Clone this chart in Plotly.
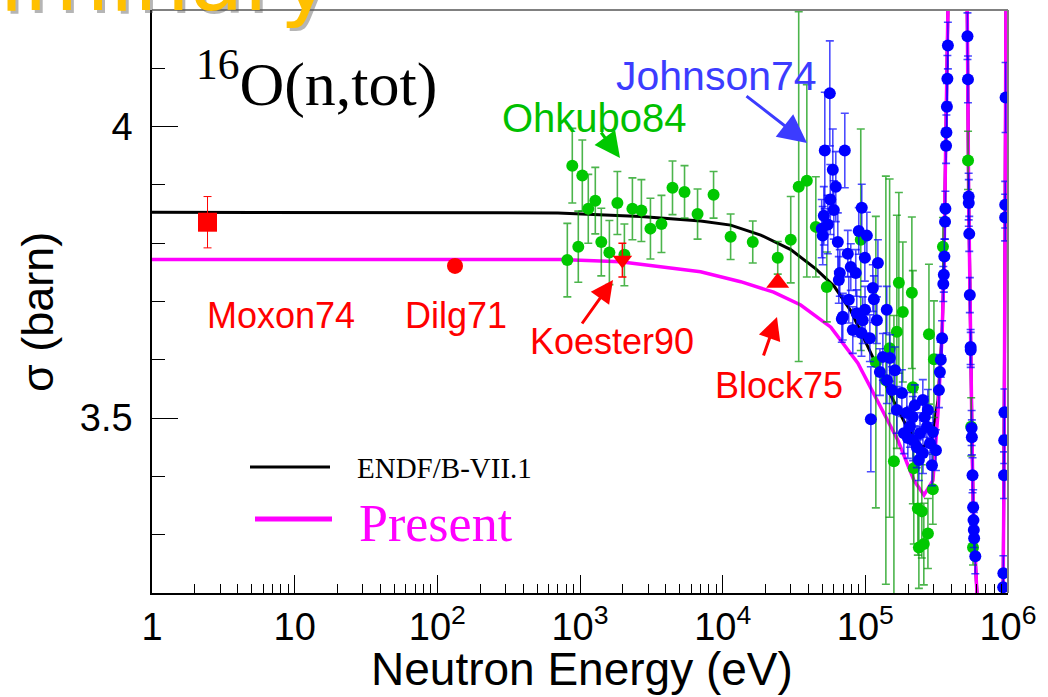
import plotly.graph_objects as go

# ---------------- data ----------------
endf_E = [1, 100, 700, 2660, 7010, 11380, 18490, 30000, 44950, 60500, 79100, 110000, 150000, 200000,
          250000, 290000, 323000, 345000, 355000, 365000, 375000, 385000, 505000, 518000, 530000,
          540000, 550000, 560000, 570000, 580000, 600000, 615000, 700000, 900000, 925000, 940000,
          950000, 958000, 965000, 975000]
endf_sig = [3.853, 3.853, 3.852, 3.846, 3.838, 3.831, 3.814, 3.789, 3.756, 3.726, 3.684, 3.61, 3.54, 3.48,
            3.45, 3.46, 3.53, 3.645, 3.75, 3.95, 4.12, 4.3, 4.3, 4.2, 3.88,
            3.71, 3.58, 3.46, 3.35, 3.29, 3.22, 3.17, 3.1, 3.12, 3.21, 3.45,
            3.7, 3.95, 4.15, 4.4]

present_E = [1, 730, 1919, 6998, 13370, 22750, 35240, 57300, 88700, 128500, 169100, 219200, 257600,
             297800, 323000, 345000, 355000, 365000, 375000, 385000, 505000, 518000, 530000, 540000,
             550000, 560000, 570000, 580000, 600000, 615000, 700000, 900000, 925000, 940000, 950000,
             958000, 965000, 975000]
present_sig = [3.772, 3.772, 3.768, 3.751, 3.734, 3.716, 3.694, 3.656, 3.594, 3.519, 3.462, 3.393, 3.368,
               3.393, 3.509, 3.64, 3.75, 3.95, 4.12, 4.3, 4.3, 4.2, 3.88, 3.71,
               3.58, 3.46, 3.35, 3.29, 3.22, 3.17, 3.1, 3.12, 3.21, 3.45, 3.7,
               3.95, 4.15, 4.4]

ohkubo_E = [815, 883, 973, 1038, 1143, 1280, 1410, 1607, 1828, 2047,
            2330, 2694, 3117, 3724, 4450, 5404, 6668, 8635, 11370, 16250,
            24320, 30000, 34120, 38900, 44980, 53700, 92900, 148000, 171800, 211900,
            183200, 166300, 279200, 302600, 215300, 118500, 158600, 218600, 297200, 233300,
            248900, 274600, 237300, 257000, 139300, 350000, 524800, 568400, 552000]
ohkubo_sig = [3.771, 3.933, 3.794, 3.916, 3.859, 3.873, 3.802, 3.784, 3.869, 3.780,
              3.859, 3.856, 3.825, 3.833, 3.895, 3.888, 3.850, 3.883, 3.811, 3.802,
              3.775, 3.806, 3.897, 3.907, 3.828, 3.725, 3.806, 3.62, 3.732, 3.715,
              3.682, 3.648, 3.644, 3.601, 3.553, 3.596, 3.426, 3.414, 3.378, 3.345,
              3.340, 3.302, 3.278, 3.284, 3.565, 3.794, 3.942, 3.278, 3.485]
ohkubo_err = [0.063, 0.064, 0.061, 0.061, 0.059, 0.057, 0.058, 0.055, 0.054, 0.053,
              0.053, 0.053, 0.052, 0.049, 0.046, 0.045, 0.043, 0.040, 0.039, 0.036,
              0.028, 0.074, 0.30, 0.165, 0.086, 0.06, 0.19, 0.29, 0.155, 0.13,
              0.12, 0.2, 0.12, 0.1, 0.2, 0.25, 0.25, 0.13, 0.06, 0.08,
              0.08, 0.06, 0.07, 0.07, 0.35, 0.05, 0.05, 0.03, 0.05]

johnson_E = [56360, 51990, 71780, 59150, 62090, 56800, 60130, 51170, 49450, 50280,
             54580, 64120, 94400, 89950, 102500, 75340, 99200, 122500, 66230, 79070,
             85700, 65170, 112900, 114800, 69500, 87100, 99500, 141300, 68390, 95900,
             120500, 94000, 107600, 132700, 148600, 126500, 141600, 161200, 153500, 180300,
             166300, 109300, 195400, 215300, 252900, 261200, 270100, 297700, 241600, 205300,
             229600, 253500, 283800, 293100, 186200, 198600, 222300, 274200, 312600, 237300,
             216000, 76560, 81660,
             328000, 333000, 338000, 345000, 352000, 355000, 358000, 362000, 364000, 368000,
             370000, 373000, 376000, 379000,
             520000, 524000, 530000, 531000, 535000, 540000, 547000, 548000, 556000, 558000,
             564000, 570000, 573000, 576000, 579000, 590000,
             925000, 928000, 938000, 941000, 944000, 955000, 956000, 962000]
johnson_sig = [4.057, 3.959, 3.959, 3.926, 3.897, 3.875, 3.857, 3.847, 3.825, 3.813,
               3.832, 3.802, 3.861, 3.821, 3.813, 3.782, 3.775, 3.766, 3.749, 3.759,
               3.749, 3.737, 3.723, 3.704, 3.674, 3.680, 3.686, 3.686, 3.670, 3.668,
               3.668, 3.646, 3.637, 3.605, 3.603, 3.579, 3.565, 3.582, 3.548, 3.543,
               3.514, 3.498, 3.509, 3.502, 3.531, 3.502, 3.485, 3.476, 3.474, 3.485,
               3.450, 3.440, 3.457, 3.419, 3.474, 3.466, 3.522, 3.514, 3.445, 3.428,
               3.462, 3.703, 3.651,
               3.548, 3.579, 3.600, 3.637, 3.730, 3.746, 3.777, 3.837, 3.859, 3.967,
               3.990, 4.034, 4.082, 4.139,
               4.155, 4.081, 3.880, 3.869, 3.816, 3.711, 3.622, 3.617, 3.483, 3.467,
               3.402, 3.347, 3.325, 3.308, 3.294, 3.263,
               3.210, 3.234, 3.402, 3.462, 3.510, 3.844, 3.866, 4.050]
johnson_err = [0.09, 0.10, 0.064, 0.07, 0.06, 0.06, 0.05, 0.05, 0.05, 0.05,
               0.05, 0.05, 0.04, 0.04, 0.04, 0.04, 0.04, 0.04, 0.04, 0.04,
               0.04, 0.04, 0.04, 0.04, 0.04, 0.04, 0.04, 0.04, 0.04, 0.04,
               0.04, 0.04, 0.04, 0.04, 0.04, 0.04, 0.04, 0.04, 0.04, 0.04,
               0.04, 0.09, 0.035, 0.035, 0.035, 0.035, 0.035, 0.035, 0.035, 0.035,
               0.035, 0.035, 0.035, 0.035, 0.035, 0.035, 0.035, 0.035, 0.035, 0.035,
               0.035, 0.04, 0.04,
               0.03, 0.03, 0.03, 0.03, 0.03, 0.03, 0.03, 0.03, 0.03, 0.03,
               0.03, 0.04, 0.04, 0.04,
               0.04, 0.04, 0.04, 0.04, 0.03, 0.03, 0.03, 0.03, 0.03, 0.03,
               0.03, 0.03, 0.03, 0.03, 0.03, 0.03,
               0.03, 0.03, 0.04, 0.04, 0.04, 0.04, 0.04, 0.06]

moxon_E, moxon_sig, moxon_err = [2.45], [3.836], [0.044]
dilg_E, dilg_sig = [133], [3.761]
koester_E, koester_sig, koester_err = [1982], [3.771], [0.029]
block_E, block_sig = [24300], [3.732]

xtick_vals = [1, 10, 100, 1000, 10000, 100000, 1000000]
xtick_text = ["1", "10", "10<sup>2</sup>", "10<sup>3</sup>", "10<sup>4</sup>", "10<sup>5</sup>", "10<sup>6</sup>"]
ytick_vals = [3.5, 4.0]
ytick_text = ["3.5", "4"]

# ---------------- figure ----------------
RED = "#ff0000"
GREEN = "#00c800"
BLUE = "#0000ff"
MAG = "#ff00ff"

fig = go.Figure()
fig.add_trace(go.Scatter(x=endf_E, y=endf_sig, mode="lines", line=dict(color="black", width=3), showlegend=False))
fig.add_trace(go.Scatter(x=present_E, y=present_sig, mode="lines", line=dict(color=MAG, width=3.5), showlegend=False))
fig.add_trace(go.Scatter(x=ohkubo_E, y=ohkubo_sig, mode="markers",
                         marker=dict(color=GREEN, size=12),
                         error_y=dict(type="data", array=ohkubo_err, color="rgba(0,150,0,0.7)", thickness=1.6, width=4),
                         showlegend=False))
fig.add_trace(go.Scatter(x=johnson_E, y=johnson_sig, mode="markers",
                         marker=dict(color=BLUE, size=12),
                         error_y=dict(type="data", array=johnson_err, color="rgba(0,0,255,0.7)", thickness=1.6, width=4),
                         showlegend=False))
fig.add_trace(go.Scatter(x=moxon_E, y=moxon_sig, mode="markers",
                         marker=dict(color=RED, size=19, symbol="square"),
                         error_y=dict(type="data", array=moxon_err, color=RED, thickness=1, width=4),
                         showlegend=False))
fig.add_trace(go.Scatter(x=dilg_E, y=dilg_sig, mode="markers",
                         marker=dict(color=RED, size=16, symbol="circle"), showlegend=False))
fig.add_trace(go.Scatter(x=koester_E, y=koester_sig, mode="markers",
                         marker=dict(color=RED, size=17, symbol="triangle-down"),
                         error_y=dict(type="data", array=koester_err, color=RED, thickness=1.5, width=4),
                         showlegend=False))
fig.add_trace(go.Scatter(x=block_E, y=block_sig, mode="markers",
                         marker=dict(color=RED, size=20, symbol="triangle-up"), showlegend=False))

L, R, T, B = 152, 40, 10, 104
W, H = 1048, 697
PW, PH = W - L - R, H - T - B


def px(xp):
    return (xp - L) / PW


def py(yp):
    return (H - B - yp) / PH


minor_x = [m * 10 ** k for k in range(6) for m in range(2, 10)]

fig.update_xaxes(type="log", range=[0, 6], tickvals=xtick_vals, ticktext=xtick_text,
                 ticks="inside", ticklen=18, tickwidth=1, tickcolor="black",
                 showline=True, linecolor="black", linewidth=1.5, showgrid=False, zeroline=False,
                 tickfont=dict(family="Liberation Sans", size=38, color="black"),
                 ticklabelstandoff=0,
                 minor=dict(tickvals=minor_x, ticks="inside", ticklen=9, tickwidth=1, tickcolor="black", showgrid=False))
fig.update_yaxes(range=[3.2, 4.2], tickvals=ytick_vals, ticktext=ytick_text,
                 ticks="inside", ticklen=26, tickwidth=1, tickcolor="black",
                 showline=True, linecolor="black", linewidth=1.5, showgrid=False, zeroline=False,
                 tickfont=dict(family="Liberation Sans", size=38, color="black"),
                 ticklabelstandoff=10,
                 minor=dict(dtick=0.1, tick0=3.2, ticks="inside", ticklen=13, tickwidth=1, tickcolor="black", showgrid=False))

shapes = [
    dict(type="line", xref="paper", yref="paper", x0=0, x1=1, y0=1, y1=1, line=dict(color="#808080", width=2)),
    dict(type="line", xref="paper", yref="paper", x0=1, x1=1, y0=0, y1=1, line=dict(color="#808080", width=2)),
    # legend samples
    dict(type="line", xref="paper", yref="paper", x0=px(250), x1=px(330), y0=py(467), y1=py(467), line=dict(color="black", width=3)),
    dict(type="line", xref="paper", yref="paper", x0=px(255), x1=px(332), y0=py(519), y1=py(519), line=dict(color=MAG, width=5)),
]

ann = []


def text(t, xc, yc, size, color, family="Liberation Sans", **kw):
    d = dict(text=t, xref="paper", yref="paper", x=px(xc), y=py(yc), showarrow=False,
             font=dict(family=family, size=size, color=color), xanchor=kw.pop("xanchor", "center"),
             yanchor=kw.pop("yanchor", "middle"))
    d.update(kw)
    ann.append(d)


# Preliminary watermark (with shadow), mostly cut off at the top-left corner
text("Preliminary", 334, -21, 88, "rgba(90,90,90,0.45)", family="DejaVu Sans", xanchor="right", xshift=3, yshift=-3)
text("Preliminary", 334, -21, 88, "#ffc000", family="DejaVu Sans", xanchor="right")

text("<sup>16</sup>O(n,tot)", 316, 80, 62, "black", family="Liberation Serif")
text("Ohkubo84", 594, 118, 40, "#00c000")
text("Johnson74", 716, 76, 41, "#3c3cff")
text("Moxon74", 281, 315, 36, RED)
text("Dilg71", 456, 315, 36, RED)
text("Koester90", 612, 342, 36, RED)
text("Block75", 779, 385, 36, RED)
text("ENDF/B-VII.1", 355, 468, 29, "black", family="Liberation Serif", xanchor="left")
text("Present", 357, 523, 52, MAG, family="Liberation Serif", xanchor="left")
text("Neutron Energy (eV)", 582, 669, 46, "black")
text("σ (barn)", 38, 312, 45, "black", textangle=-90)


def arrow(xt, yt, xs, ys, color, w, size):
    ann.append(dict(text="", xref="paper", yref="paper", x=px(xt), y=py(yt), axref="pixel", ayref="pixel",
                    ax=xs - xt, ay=ys - yt, showarrow=True, arrowhead=2, arrowsize=size, arrowwidth=w,
                    arrowcolor=color, standoff=0))


arrow(620, 158, 600, 131, GREEN, 3, 1.7)
arrow(807, 143, 745, 95, "#3c3cff", 3, 1.9)
arrow(613, 280, 581, 325, RED, 3, 1.5)
arrow(777, 317, 763, 357, RED, 3, 1.5)

fig.update_layout(width=W, height=H, margin=dict(l=L, r=R, t=T, b=B),
                  plot_bgcolor="white", paper_bgcolor="white",
                  shapes=shapes, annotations=ann, showlegend=False)

fig.write_html("out.html")
